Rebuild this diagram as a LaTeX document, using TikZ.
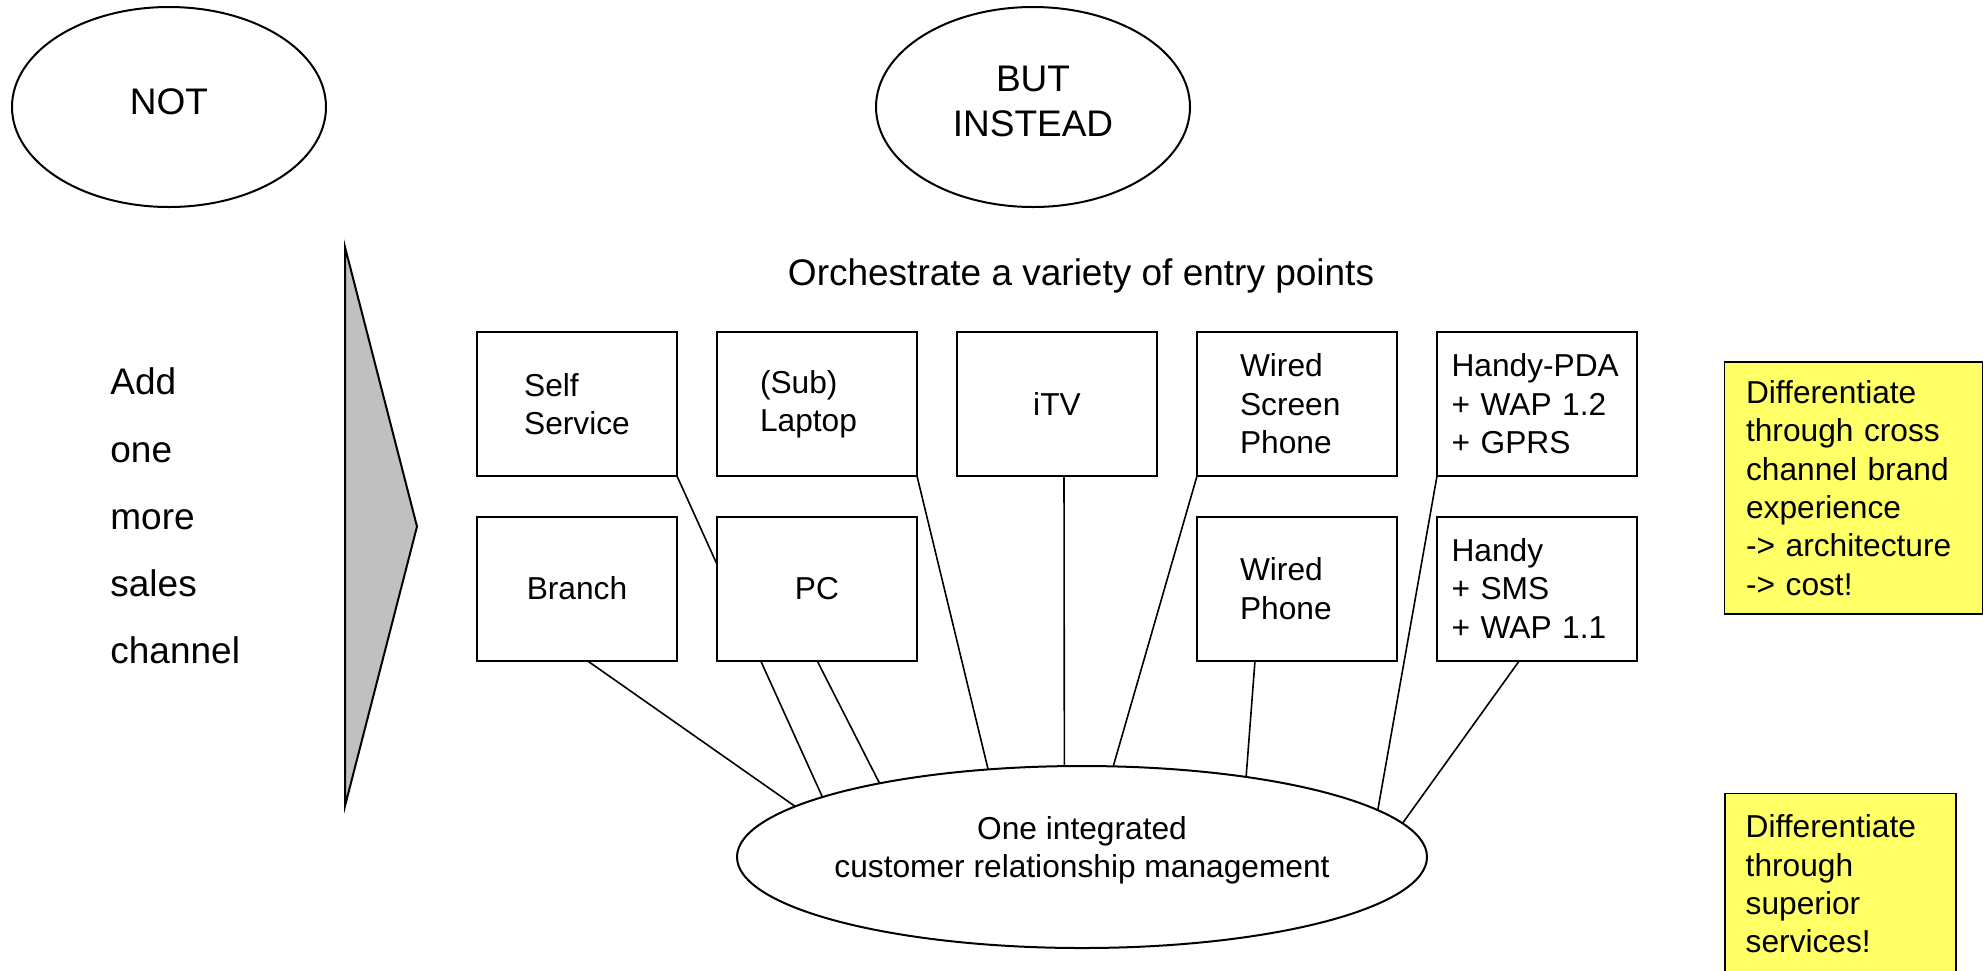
\documentclass[tikz,border=0pt]{standalone}
\usepackage{fontspec}
\setmainfont{Liberation Sans}
\usetikzlibrary{shapes.geometric,backgrounds}
\definecolor{notefill}{HTML}{FFFF66}
\definecolor{wedgegray}{HTML}{C0C0C0}
% invisible strut that lowers the text block inside the ovals
\newcommand{\lowpad}[1]{\rule[-#1]{0pt}{0pt}}
\begin{document}
\begin{tikzpicture}[x=0.5pt, y=-0.5pt,
  bigfont/.style={font=\fontsize{18.5}{22.5}\selectfont},
  oval/.style={draw, ellipse, line width=1pt, inner sep=0pt, outer sep=0pt,
    minimum width=157pt, minimum height=100pt, align=center, bigfont},
  chan/.style={draw, rectangle, line width=1pt, fill=white,
    minimum width=100pt, minimum height=72pt, inner sep=0pt, outer sep=0pt,
    align=left, font=\fontsize{15.85}{19.2}\selectfont},
  note/.style={draw=black, line width=0.8pt, fill=notefill, inner sep=0pt,
    outer sep=0pt, align=left, font=\fontsize{15.85}{19.2}\selectfont},
  link/.style={line width=0.8pt}]

\useasboundingbox (0,0) rectangle (1984,970);

% headings
\node[oval] (nott) at (169,107) {NOT\lowpad{5.25pt}};
\node[oval] (but) at (1033,107) {BUT\\INSTEAD\lowpad{6pt}};
\node[bigfont, anchor=base, inner sep=0pt] (orch) at (1081,285)
  {Orchestrate a variety of entry points};

% left-hand statement and wedge
\node[anchor=west, align=left, inner sep=0pt,
  font=\fontsize{18.5}{33.6}\selectfont] (add) at (110,516)
  {Add\\one\\more\\sales\\channel};
\draw[line width=1pt, fill=wedgegray] (345,247) -- (417,526.5) -- (345,806) -- cycle;

% entry points, upper row
\node[chan] (ss)   at (577,404)  {Self\\Service};
\node[chan, text width=57pt] (lap)  at (817,404)  {(Sub)\\Laptop};
\node[chan] (itv)  at (1057,404) {iTV};
\node[chan, text width=57pt] (wsp)  at (1297,404) {Wired\\Screen\\Phone};
\node[chan, text width=85.5pt] (hpda) at (1537,404) {Handy-PDA\\+ WAP 1.2\\+ GPRS};

% entry points, lower row
\node[chan] (branch) at (577,588.5)  {Branch};
\node[chan] (pc)     at (817,588.5)  {PC};
\node[chan, text width=57pt] (wp)     at (1297,588.5) {Wired\\Phone};
\node[chan, text width=85.5pt] (handy)  at (1537,588.5) {Handy\\+ SMS\\+ WAP 1.1};

% integrated CRM
\node[draw, ellipse, line width=1pt, fill=white, minimum width=345pt,
  minimum height=91pt, inner sep=0pt, outer sep=0pt] (crm) at (1082,857) {};
\node[align=center, inner sep=0pt, font=\fontsize{15.85}{19.2}\selectfont]
  (crmtext) at (1082,850) {One integrated\\customer relationship management};

% side notes
\node[note, minimum width=129pt, minimum height=126pt, text width=107.5pt]
  (note1) at (1853.5,488)
  {Differentiate\\through cross\\channel brand\\experience\\-> architecture\\-> cost!};
\node[note, minimum width=115.35pt, minimum height=90.7pt, text width=94.65pt]
  (note2) at (1840.35,884)
  {Differentiate\\through\\superior\\services!};

% every entry point feeds the CRM
\begin{scope}[on background layer]
  \draw[link] ([xshift=5pt]branch.south) -- (crm.170.5);
  \draw[link] (ss.south east) -- (crm.167.2);
  \draw[link] (pc.south) -- (crm.160.7);
  \draw[link] (lap.south east) -- (crm.137.5);
  \draw[link] ([xshift=3.5pt]itv.south) -- (crm.101.2);
  \draw[link] (wsp.south west) -- (crm.71.9);
  \draw[link] ([xshift=-21pt]wp.south) -- (crm.26.8);
  \draw[link] (hpda.south west) -- (crm.9.4);
  \draw[link] ([xshift=-8.75pt]handy.south) -- (crm.6.4);
\end{scope}
\end{tikzpicture}
\end{document}
